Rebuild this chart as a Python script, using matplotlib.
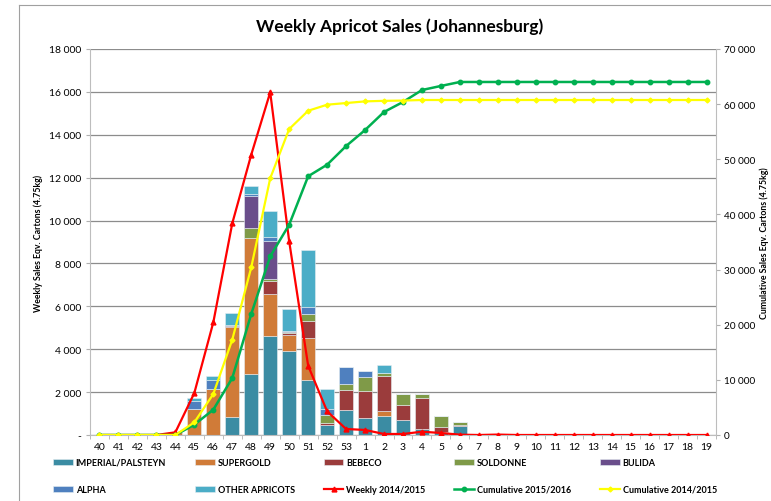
import matplotlib.pyplot as plt
import numpy as np
from matplotlib.lines import Line2D
from matplotlib.ticker import FuncFormatter

weeks = ["40", "41", "42", "43", "44", "45", "46", "47", "48", "49", "50", "51", "52", "53",
         "1", "2", "3", "4", "5", "6", "7", "8", "9", "10", "11", "12", "13", "14", "15",
         "16", "17", "18", "19"]

# weekly sales per cultivar (left axis)
imperial = [0, 0, 0, 0, 0, 0, 0, 825, 2845, 4600, 3900, 2580, 470, 1180, 810, 870, 715,
            280, 125, 400, 0, 0, 0, 0, 0, 0, 0, 0, 0, 0, 0, 0, 0]
supergold = [0, 0, 0, 0, 150, 1230, 2150, 4200, 6325, 1975, 780, 1945, 0, 0, 0, 235, 0,
             0, 0, 0, 0, 0, 0, 0, 0, 0, 0, 0, 0, 0, 0, 0, 0]
bebeco = [0, 0, 0, 0, 0, 0, 0, 50, 0, 620, 60, 805, 90, 930, 1240, 1660, 700,
          1430, 235, 65, 0, 30, 0, 0, 0, 0, 0, 0, 0, 0, 0, 0, 0]
soldonne = [0, 0, 0, 0, 0, 0, 0, 0, 480, 75, 50, 295, 370, 250, 640, 125, 495,
            200, 540, 125, 0, 0, 0, 0, 0, 0, 0, 0, 0, 0, 0, 0, 0]
bulida = [0, 0, 0, 0, 0, 0, 0, 60, 1480, 1760, 40, 0, 0, 0, 0, 0, 0,
          0, 0, 0, 0, 0, 0, 0, 0, 0, 0, 0, 0, 0, 0, 0, 0]
alpha = [0, 0, 0, 0, 0, 370, 420, 0, 110, 200, 0, 360, 280, 825, 310, 0, 0,
         0, 0, 0, 0, 0, 0, 0, 0, 0, 0, 0, 0, 0, 0, 0, 0]
other = [0, 0, 0, 0, 0, 110, 200, 545, 385, 1230, 1040, 2640, 935, 0, 0, 375, 0,
         0, 0, 0, 0, 0, 0, 0, 0, 0, 0, 0, 0, 0, 0, 0, 0]

weekly_1415 = [0, 0, 0, 0, 125, 1960, 5250, 9870, 13070, 15980, 9030, 3230, 1105, 280, 235,
               47, 47, 155, 93, 15, 0, 20, 0, 0, 0, 0, 0, 0, 0, 0, 0, 0, 0]
# cumulative (right axis)
cum_1516 = [0, 0, 0, 0, 0, 1870, 4590, 10340, 21940, 32400, 38140, 46920, 49020, 52400, 55300,
            58580, 60390, 62560, 63300, 64020, 64020, 64020, 64020, 64020, 64020, 64020,
            64020, 64020, 64020, 64020, 64020, 64020, 64020]
cum_1415 = [0, 0, 0, 0, 0, 2300, 7430, 17290, 30400, 46550, 55490, 58800, 59900, 60200, 60500,
            60600, 60650, 60750, 60750, 60750, 60750, 60750, 60750, 60750, 60750, 60750,
            60750, 60750, 60750, 60750, 60750, 60750, 60750]

series = [("IMPERIAL/PALSTEYN", imperial, "#3B8CA3"),
          ("SUPERGOLD", supergold, "#D07B38"),
          ("BEBECO", bebeco, "#9B3C3C"),
          ("SOLDONNE", soldonne, "#7F9A48"),
          ("BULIDA", bulida, "#6A4E8B"),
          ("ALPHA", alpha, "#4F80BF"),
          ("OTHER APRICOTS", other, "#4BADC7")]

plt.rcParams['font.family'] = ['Lato', 'DejaVu Sans']

fig = plt.figure(figsize=(7.71, 5.02), dpi=100)
ax = fig.add_axes([90/771, 1-436/502, (716-90)/771, (436-50)/502])
x = np.arange(len(weeks))

handles = []
bottom = np.zeros(len(weeks))
for name, vals, col in series:
    b = ax.bar(x, vals, 0.74, bottom=bottom, color=col, edgecolor="#e6eef2",
               linewidth=0.4, label=name, zorder=2)
    handles.append(b)
    bottom += np.array(vals)

h_red, = ax.plot(x, weekly_1415, color="#FF0000", lw=1.6, marker="^", ms=3.5,
                 label="Weekly 2014/2015", zorder=3)

ax.set_xlim(-0.5, len(weeks)-0.5)
ax.set_ylim(0, 18000)
ax.set_yticks(np.arange(0, 18001, 2000))
ax.yaxis.set_major_formatter(FuncFormatter(lambda v, p: "-" if v == 0 else f"{int(v):,}".replace(",", " ")))
ax.grid(axis="y", color="#8c8c8c", lw=0.9, zorder=0)
ax.set_xticks(x)
ax.set_xticklabels(weeks)
ax.set_xticks(np.arange(-0.5, len(weeks), 1), minor=True)
ax.tick_params(axis="x", which="major", length=0, labelsize=7.5, pad=5)
ax.tick_params(axis="x", which="minor", length=3, color="#b0b0b0")
ax.tick_params(axis="y", length=3, color="#b0b0b0", labelsize=7.5)
for s in ["top", "right"]:
    ax.spines[s].set_visible(False)
ax.spines["left"].set_color("#bdbdbd")
ax.spines["bottom"].set_color("#bdbdbd")
ax.set_ylabel("Weekly Sales Eqv. Cartons (4.75kg)", fontsize=6.3, fontweight="bold", labelpad=4)

ax2 = ax.twinx()
h_green, = ax2.plot(x, cum_1516, color="#00B050", lw=1.8, marker="o", ms=3.2,
                    label="Cumulative 2015/2016", zorder=3)
h_yel, = ax2.plot(x, cum_1415, color="#FFFF00", lw=1.6, marker="D", ms=2.5,
                  label="Cumulative 2014/2015", zorder=4)
ax2.set_ylim(0, 70000)
ax2.set_yticks(np.arange(0, 70001, 10000))
ax2.yaxis.set_major_formatter(FuncFormatter(lambda v, p: f"{int(v):,}".replace(",", " ")))
ax2.tick_params(axis="y", length=3, color="#b0b0b0", labelsize=7.2, pad=2.5)
for s in ["top", "left", "bottom"]:
    ax2.spines[s].set_visible(False)
ax2.spines["right"].set_color("#bdbdbd")
ax2.set_ylabel("Cumulative Sales Eqv. Cartons (4.75kg)", fontsize=6.3, fontweight="bold", labelpad=3)

fig.text(400/771, 1-27/502, "Weekly Apricot Sales (Johannesburg)", ha="center", va="center",
         fontsize=12.5, fontweight="bold")

# legend, filled row by row
hs = handles + [h_red, h_green, h_yel]
order = [0, 5, 1, 6, 2, 7, 3, 8, 4, 9]
hs = [hs[i] for i in order]
fig.legend(hs, [h.get_label() for h in hs], ncol=5, loc="lower left",
           bbox_to_anchor=(45/771, 1-503/502, 680/771, 50/502), mode="expand",
           frameon=False, prop={"size": 6.5, "weight": "bold"}, handlelength=2.2,
           handletextpad=0.3, labelspacing=2.0)

# chart border
fig.add_artist(Line2D([19/771, 19/771], [0, 1-6/502], color="#a0a0a0", lw=0.8))
fig.add_artist(Line2D([19/771, 1], [1-6/502, 1-6/502], color="#a0a0a0", lw=0.8))

fig.savefig("out.png", dpi=100)
